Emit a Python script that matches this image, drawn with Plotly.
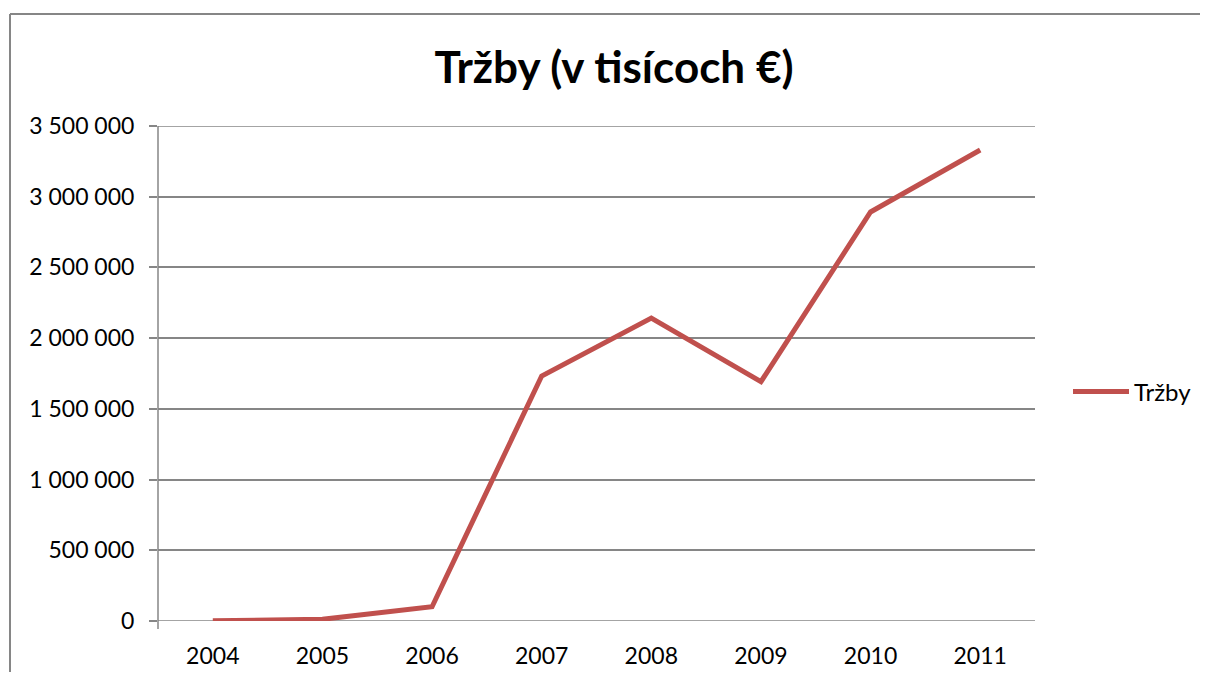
import plotly.graph_objects as go

years = ["2004", "2005", "2006", "2007", "2008", "2009", "2010", "2011"]
trzby = [2000, 12000, 101000, 1732000, 2142000, 1692000, 2892000, 3330000]
y_ticks = [0, 500000, 1000000, 1500000, 2000000, 2500000, 3000000, 3500000]
y_labels = ["0", "500 000", "1 000 000", "1 500 000", "2 000 000", "2 500 000", "3 000 000", "3 500 000"]

OFF = 8  # default page body margin
W, H = 1208 - 2 * OFF, 680 - 2 * OFF
L, R, T, B = 158 - OFF, 1035 - OFF, 126 - OFF, 621 - OFF

def px(x):
    return (x - OFF - L) / (R - L)

def py(y):
    return (B - (y - OFF)) / (B - T)

GRID = "#868686"

fig = go.Figure()
fig.add_trace(go.Scatter(
    x=years, y=trzby, mode="lines", name="Tržby",
    line=dict(color="#C0504D", width=5),
))

shapes = [
    # chart border (top and left visible)
    dict(type="line", xref="paper", yref="paper",
         x0=px(10), x1=px(1200), y0=py(14), y1=py(14),
         line=dict(color=GRID, width=2), layer="below"),
    dict(type="line", xref="paper", yref="paper",
         x0=px(10), x1=px(10), y0=py(14), y1=py(672),
         line=dict(color=GRID, width=2), layer="below"),
    # y axis line
    dict(type="line", xref="paper", yref="paper",
         x0=0, x1=0, y0=py(629), y1=1,
         line=dict(color=GRID, width=1.5), layer="below"),
]
for v in (y_ticks[0], y_ticks[-1]):
    shapes.append(dict(type="line", xref="paper", yref="y", x0=0, x1=1, y0=v, y1=v,
                       line=dict(color=GRID, width=1.5), layer="below"))

fig.update_layout(
    width=W, height=H,
    margin=dict(l=L, r=W - R, t=T, b=H - B, pad=0, autoexpand=False),
    paper_bgcolor="white", plot_bgcolor="white",
    font=dict(family="Lato, 'Open Sans', sans-serif", size=23, color="black"),
    title=dict(text="<b>Tržby (v tisícoch €)</b>", x=px(614), xanchor="center", xref="paper",
               y=1 - (68 - OFF) / H, yanchor="middle", font=dict(size=44, color="black")),
    showlegend=True,
    legend=dict(x=px(1068), y=py(392), xanchor="left", yanchor="middle",
                font=dict(size=24), bgcolor="rgba(0,0,0,0)", itemwidth=56),
    xaxis=dict(type="category", range=[-0.5, 7.5], showgrid=False, automargin=False,
               showline=False, ticks="", tickfont=dict(size=23), ticklabelstandoff=19, zeroline=False),
    yaxis=dict(range=[0, 3500000], tickvals=y_ticks, ticktext=y_labels, automargin=False,
               showgrid=True, gridcolor=GRID, gridwidth=1.5,
               showline=False,
               ticks="outside", ticklen=8, tickcolor=GRID, tickwidth=1.5,
               ticklabelstandoff=10,
               tickfont=dict(size=23), zeroline=False),
    shapes=shapes,
)

fig.write_html("out.html")
